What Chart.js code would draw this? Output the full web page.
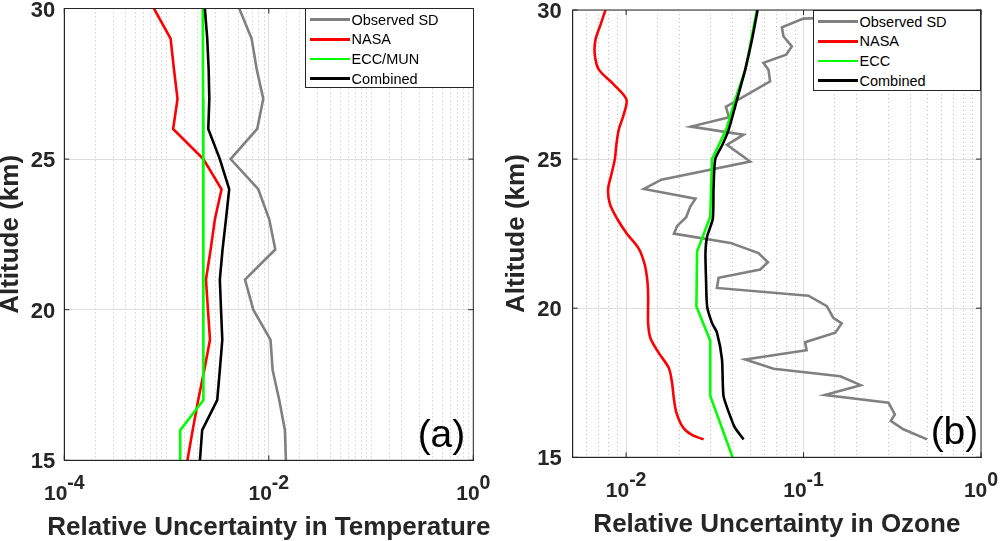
<!DOCTYPE html>
<html>
<head>
<meta charset="utf-8">
<script src="https://cdn.jsdelivr.net/npm/chart.js@4.4.1/dist/chart.umd.min.js"></script>
<style>
  html, body { margin: 0; padding: 0; background: #fff; }
  #wrap { position: relative; width: 1000px; height: 541px; overflow: hidden; }
  .panel { position: absolute; top: 0; width: 500px; height: 541px; }
  .legend { position: absolute; box-sizing: border-box; background: #fff; border: 1px solid #262626;
            font: 14.5px "Liberation Sans", Arial, sans-serif; color: #000; }
  .legend .row { position: absolute; left: 0; height: 20px; line-height: 20px; white-space: nowrap; }
  .legend .swatch { position: absolute; left: 3.5px; top: 8.75px; width: 40px; height: 2.5px; }
  .legend .txt { position: absolute; left: 45.5px; top: 0; }
</style>
</head>
<body>
<div id="wrap">
  <canvas id="tempChart" class="panel" width="500" height="541" style="left:0"></canvas>
  <canvas id="ozoneChart" class="panel" width="500" height="541" style="left:500px"></canvas>
  <div id="tempLegend" class="legend" style="left:305px;top:8px;width:169px;height:80px"></div>
  <div id="ozoneLegend" class="legend" style="left:813px;top:10px;width:168px;height:81px"></div>
</div>
<script>
// === Panel (a): relative uncertainty in temperature ===
var tempAlt = [30, 29, 28, 27, 26, 25, 24, 23, 22, 21, 20, 19, 18, 17, 16, 15];
var tempObserved = [0.00514, 0.00679, 0.0076, 0.00883, 0.0077, 0.00423, 0.00789, 0.0101,
                    0.01157, 0.00585, 0.00705, 0.0104, 0.0109, 0.01265, 0.01438, 0.0147];
var tempNasa = [0.000753, 0.001096, 0.00118, 0.00128, 0.00116, 0.00229, 0.00345, 0.00297,
                0.0027, 0.00243, 0.00254, 0.00266, 0.00234, 0.00204, 0.0018, 0.0016];
var tempEccMun = [0.00226, 0.00227, 0.00227, 0.00228, 0.00228, 0.00228, 0.00229, 0.00229,
                  0.00229, 0.0023, 0.0023, 0.0023, 0.0023, 0.0023, 0.00136, 0.00136];
var tempCombined = [0.00237, 0.0025, 0.00258, 0.00262, 0.00256, 0.00332, 0.0041, 0.00381,
                    0.00353, 0.00332, 0.00341, 0.00351, 0.00332, 0.00313, 0.00223, 0.00212];

// === Panel (b): relative uncertainty in ozone ===
var ozObsAlt = [29.73, 29.71, 29.42, 29.12, 28.78, 28.5, 28.23, 28.0, 27.61, 26.75, 26.4, 26.09,
                25.82, 25.48, 24.92, 24.31, 24.0, 23.67, 23.41, 23.05, 22.76, 22.5, 22.19, 21.85,
                21.54, 21.3, 21.02, 20.68, 20.42, 20.07, 19.68, 19.49, 19.18, 18.86, 18.59, 18.28,
                17.97, 17.72, 17.42, 17.09, 16.83, 16.44, 16.22, 15.94, 15.6];
var ozObserved = [0.125, 0.0999, 0.0755, 0.077, 0.0859, 0.0798, 0.0594, 0.0634, 0.0648, 0.0365, 0.038, 0.0232,
                  0.0459, 0.037, 0.05, 0.0158, 0.0126, 0.0246, 0.023, 0.0218, 0.0194, 0.0186, 0.0387, 0.0557,
                  0.063, 0.057, 0.0332, 0.0325, 0.1066, 0.1353, 0.147, 0.164, 0.151, 0.102, 0.104, 0.0469,
                  0.0678, 0.161, 0.21, 0.132, 0.301, 0.327, 0.31, 0.365, 0.497];

var ozNasaAlt = [30, 29.5, 29, 28.5, 28, 27.5, 27, 26.5, 26, 25.5, 25, 24.5, 24, 23.5, 23, 22.5,
                 22, 21.5, 21, 20.5, 20, 19.5, 19, 18.5, 18, 17.5, 17, 16.5, 16, 15.75, 15.6];
var ozNasa = [0.00765, 0.00717, 0.00672, 0.00666, 0.00702, 0.00853, 0.01004, 0.0097, 0.0091, 0.00882,
              0.00864, 0.00827, 0.00792, 0.0081, 0.0089, 0.0101, 0.01178, 0.01268, 0.01313, 0.0133,
              0.0133, 0.0133, 0.0137, 0.01527, 0.01738, 0.01815, 0.01855, 0.0192, 0.02094, 0.0235, 0.02735];

var ozEccAlt = [30, 28, 27, 26, 25, 23.07, 21.9, 20.06, 18.91, 17.06, 15];
var ozEcc = [0.0546, 0.047, 0.0412, 0.0367, 0.0305, 0.0298, 0.0251, 0.0249, 0.0298, 0.0298, 0.0398];

var ozCombAlt = [30, 29, 28, 27, 26, 25.5, 25, 24, 23, 22.4, 21.85, 21, 20.07, 19.5, 19.18, 18.28,
                 17.05, 16.38, 16, 15.6];
var ozCombined = [0.0551, 0.0512, 0.0469, 0.0422, 0.0379, 0.035, 0.0318, 0.0311, 0.0308, 0.0286, 0.028,
                  0.0282, 0.0286, 0.0305, 0.0325, 0.0347, 0.0354, 0.0386, 0.041, 0.0459];

// === Axis labels ===
var altTicks = [15, 20, 25, 30];
var tempDecades = [-4, -2, 0];
var ozoneDecades = [-2, -1, 0];
var tempSeriesNames = ['Observed SD', 'NASA', 'ECC/MUN', 'Combined'];
var ozoneSeriesNames = ['Observed SD', 'NASA', 'ECC', 'Combined'];
var seriesColors = ['#808080', '#ff0000', '#00ff00', '#000000'];

var FONT = '"Liberation Sans", Arial, Helvetica, sans-serif';

function isMajor(v, decades) {
  var l = Math.log10(v);
  return decades.some(function(d) { return Math.abs(l - d) < 1e-6; });
}

function series(label, xs, ys, color, order, tension) {
  return {
    label: label,
    data: xs.map(function(v, i) { return { x: v, y: ys[i] }; }),
    showLine: true,
    borderColor: color,
    backgroundColor: color,
    borderWidth: 2.6,
    pointRadius: 0,
    tension: tension || 0,
    order: order
  };
}

// axes box, inward ticks, tick labels with superscripts, x title and panel tag
var panelDecor = {
  id: 'panelDecor',
  afterDraw: function(chart, args, o) {
    var ctx = chart.ctx, a = chart.chartArea, xs = chart.scales.x, ys = chart.scales.y;
    ctx.save();
    ctx.strokeStyle = '#262626';
    ctx.lineWidth = 1;
    ctx.strokeRect(a.left, a.top, a.right - a.left, a.bottom - a.top);

    ctx.beginPath();
    altTicks.forEach(function(v) {
      var py = ys.getPixelForValue(v);
      ctx.moveTo(a.left, py); ctx.lineTo(a.left + 5, py);
      ctx.moveTo(a.right, py); ctx.lineTo(a.right - 5, py);
    });
    o.decades.forEach(function(d) {
      var px = xs.getPixelForValue(Math.pow(10, d));
      ctx.moveTo(px, a.bottom); ctx.lineTo(px, a.bottom - 5);
      ctx.moveTo(px, a.top); ctx.lineTo(px, a.top + 5);
    });
    ctx.stroke();

    ctx.fillStyle = '#262626';
    ctx.font = 'bold 22px ' + FONT;
    ctx.textAlign = 'right';
    ctx.textBaseline = 'middle';
    altTicks.forEach(function(v) {
      ctx.fillText(String(v), a.left - o.yLabelGap, ys.getPixelForValue(v) + 2);
    });

    ctx.textAlign = 'left';
    ctx.textBaseline = 'alphabetic';
    o.decades.forEach(function(d) {
      var px = xs.getPixelForValue(Math.pow(10, d));
      ctx.font = 'bold 21px ' + FONT;
      var w1 = ctx.measureText('10').width;
      ctx.font = 'bold 19.5px ' + FONT;
      var w2 = ctx.measureText(String(d)).width;
      var x0 = px - (w1 + w2) / 2;
      ctx.font = 'bold 21px ' + FONT;
      ctx.fillText('10', x0, a.bottom + 39.5);
      ctx.font = 'bold 19.5px ' + FONT;
      ctx.fillText(String(d), x0 + w1, a.bottom + 29);
    });

    ctx.font = 'bold 26px ' + FONT;
    ctx.textAlign = 'center';
    ctx.fillText(o.xTitle, (a.left + a.right) / 2, a.bottom + 74.6);

    ctx.fillStyle = '#000';
    ctx.font = '39px ' + FONT;
    ctx.textAlign = 'right';
    ctx.fillText(o.tag, a.right - o.tagInset, a.bottom - 13.5);
    ctx.restore();
  }
};

function buildPanel(canvasId, p) {
  return new Chart(document.getElementById(canvasId), {
    type: 'scatter',
    data: { datasets: p.datasets },
    options: {
      responsive: false,
      animation: false,
      layout: { padding: { top: p.top, right: p.right, left: 0, bottom: 0 } },
      plugins: {
        legend: { display: false },
        tooltip: { enabled: false },
        panelDecor: { decades: p.decades, yLabelGap: p.yLabelGap, tag: p.tag, tagInset: p.tagInset, xTitle: p.xTitle }
      },
      scales: {
        x: {
          type: 'logarithmic',
          min: p.xMin,
          max: p.xMax,
          afterFit: function(s) { s.height = p.xAxisH; },
          ticks: { display: false },
          grid: {
            drawTicks: false,
            lineWidth: 1,
            color: function(c) { return (c.tick && isMajor(c.tick.value, p.decades)) ? '#dedede' : '#bdbdbd'; }
          },
          border: {
            display: true, color: '#262626', width: 1,
            dash: function(c) { return (c.tick && !isMajor(c.tick.value, p.decades)) ? [1, 3] : []; }
          }
        },
        y: {
          type: 'linear',
          min: 15,
          max: 30,
          afterFit: function(s) { s.width = p.yAxisW; },
          ticks: { display: false, stepSize: 5 },
          grid: { drawTicks: false, color: '#dedede', lineWidth: 1 },
          border: { display: true, color: '#262626', width: 1 },
          title: {
            display: true, text: 'Altitude (km)', color: '#262626',
            font: { family: FONT, size: 26, weight: 'bold', lineHeight: 1 },
            padding: { top: p.yTitlePad, bottom: 0 }
          }
        }
      }
    },
    plugins: [panelDecor]
  });
}

function fillLegend(id, names) {
  var el = document.getElementById(id);
  var html = '';
  names.forEach(function(n, i) {
    html += '<div class="row" style="top:' + (0.7 + i * 19.6) + 'px">' +
      '<div class="swatch" style="background:' + seriesColors[i] + '"></div>' +
      '<span class="txt">' + n + '</span></div>';
  });
  el.innerHTML = html;
}

buildPanel('tempChart', {
  datasets: [
    series(tempSeriesNames[0], tempObserved, tempAlt, seriesColors[0], 3),
    series(tempSeriesNames[1], tempNasa, tempAlt, seriesColors[1], 2),
    series(tempSeriesNames[2], tempEccMun, tempAlt, seriesColors[2], 1),
    series(tempSeriesNames[3], tempCombined, tempAlt, seriesColors[3], 0)
  ],
  xMin: 1e-4, xMax: 1, decades: tempDecades,
  top: 8.5, right: 26.7, xAxisH: 80.7, yAxisW: 64.3,
  xTitle: 'Relative Uncertainty in Temperature', yTitlePad: -2,
  yLabelGap: 9, tag: '(a)', tagInset: 8
});

buildPanel('ozoneChart', {
  datasets: [
    series(ozoneSeriesNames[0], ozObserved, ozObsAlt, seriesColors[0], 3),
    series(ozoneSeriesNames[1], ozNasa, ozNasaAlt, seriesColors[1], 2, 0.3),
    series(ozoneSeriesNames[2], ozEcc, ozEccAlt, seriesColors[2], 1),
    series(ozoneSeriesNames[3], ozCombined, ozCombAlt, seriesColors[3], 0, 0.2)
  ],
  xMin: 0.005, xMax: 1, decades: ozoneDecades,
  top: 10, right: 19, xAxisH: 83.7, yAxisW: 72.7,
  xTitle: 'Relative Uncertainty in Ozone', yTitlePad: 3.7,
  yLabelGap: 11, tag: '(b)', tagInset: 2.7
});

fillLegend('tempLegend', tempSeriesNames);
fillLegend('ozoneLegend', ozoneSeriesNames);
</script>
</body>
</html>
